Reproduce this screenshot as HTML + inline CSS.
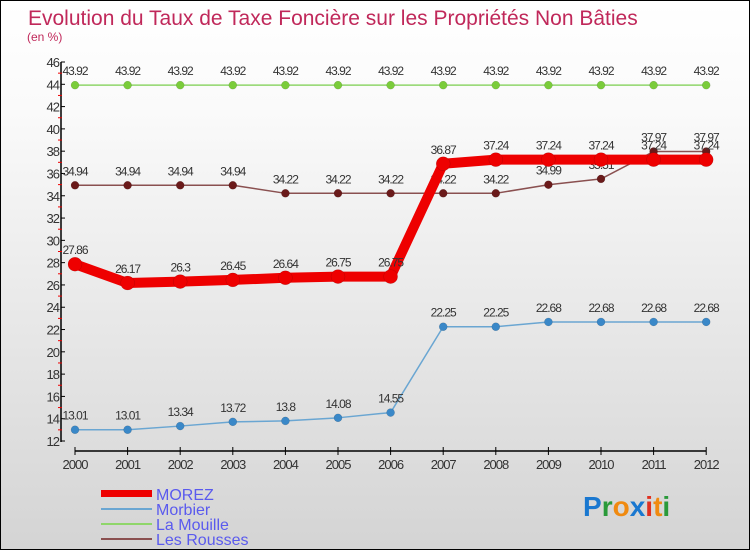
<!DOCTYPE html>
<html><head><meta charset="utf-8"><style>
html,body{margin:0;padding:0}
body{width:750px;height:550px;overflow:hidden;font-family:"Liberation Sans",sans-serif}
#wrap{position:relative;width:748px;height:548px;border:1px solid #000;background:linear-gradient(#fff,#fafafa 20%,#d4d4d4)}
</style></head><body>
<div id="wrap">
<svg id="chart" width="748" height="548" style="position:absolute;left:0;top:0">
<text x="27" y="24" font-size="21" fill="#c0285a">Evolution du Taux de Taxe Foncière sur les Propriétés Non Bâties</text>
<text x="26" y="40" font-size="12" fill="#c0285a">(en %)</text>
<g id="axes"></g><g id="series"></g>
<g>
<rect x="100" y="489" width="51" height="7" fill="#e00"/>
<text x="155" y="499" font-size="16" fill="#5a5aee">MOREZ</text>
<rect x="100" y="507" width="51" height="2" fill="#6aa6d2"/>
<text x="155" y="514" font-size="16" fill="#5a5aee">Morbier</text>
<rect x="100" y="522" width="51" height="2" fill="#8fd66a"/>
<text x="155" y="529" font-size="16" fill="#5a5aee">La Mouille</text>
<rect x="100" y="537" width="51" height="2" fill="#8a5050"/>
<text x="155" y="544" font-size="16" fill="#5a5aee">Les Rousses</text>
</g>
<text x="582" y="515" font-size="28" font-weight="bold"><tspan fill="#1a78d0">P</tspan><tspan fill="#2a9a3a">r</tspan><tspan fill="#f08a10">o</tspan><tspan fill="#1a78d0">x</tspan><tspan fill="#e03020">i</tspan><tspan fill="#f08a10">t</tspan><tspan fill="#2a9a3a">i</tspan></text>
</svg>
</div>
<script>
const years=[2000,2001,2002,2003,2004,2005,2006,2007,2008,2009,2010,2011,2012];
const morez=[27.86,26.17,26.3,26.45,26.64,26.75,26.75,36.87,37.24,37.24,37.24,37.24,37.24];
const morbier=[13.01,13.01,13.34,13.72,13.8,14.08,14.55,22.25,22.25,22.68,22.68,22.68,22.68];
const laMouille=[43.92,43.92,43.92,43.92,43.92,43.92,43.92,43.92,43.92,43.92,43.92,43.92,43.92];
const lesRousses=[34.94,34.94,34.94,34.94,34.22,34.22,34.22,34.22,34.22,34.99,35.51,37.97,37.97];
const yTicks=[12,14,16,18,20,22,24,26,28,30,32,34,36,38,40,42,44,46];
const NS="http://www.w3.org/2000/svg";
const x=i=>74+i*52.6, y=v=>440-(v-12)*(379/34);
function mk(tag,attrs,parent){const e=document.createElementNS(NS,tag);for(const k in attrs)e.setAttribute(k,attrs[k]);parent.appendChild(e);return e;}
const ax=document.getElementById('axes');
let l=mk('line',{x1:60,y1:y(46),x2:60,y2:y(12)+1,stroke:'#000','stroke-width':1.5},ax);


l=mk('line',{x1:x(0),y1:450,x2:x(12),y2:450,stroke:'#000','stroke-width':1.5},ax);


yTicks.forEach(v=>{
 mk('line',{x1:60,x2:64,y1:y(v),y2:y(v),stroke:'#000'},ax);
 if(v<46) mk('line',{x1:57,x2:61,y1:y(v+1),y2:y(v+1),stroke:'#e00'},ax);
 const t=mk('text',{x:58,y:y(v)+5,'font-size':13,'text-anchor':'end',fill:'#333','letter-spacing':'-1'},ax);t.textContent=v;
 
 
});
years.forEach((yr,i)=>{
 mk('line',{x1:x(i),x2:x(i),y1:446,y2:454,stroke:'#000'},ax);
 const t=mk('text',{x:x(i),y:468,'font-size':13,'text-anchor':'middle',fill:'#333','letter-spacing':'-1'},ax);t.textContent=yr;
 
 
});
const sg=document.getElementById('series');
function series(name,vals,color,w,r,dot){
 const g=mk('g',{},sg);
 
 
 mk('polyline',{points:vals.map((v,i)=>x(i)+','+y(v)).join(' '),fill:'none',stroke:color,'stroke-width':w,'stroke-linejoin':'round'},g);
 vals.forEach((v,i)=>{
  const c=mk('circle',{cx:x(i),cy:y(v),r:r,fill:dot,stroke:'rgba(0,0,0,0.2)','stroke-width':0.5},g);
  
  
  const t=mk('text',{x:x(i),y:y(v)-10,'font-size':12,'text-anchor':'middle',fill:'#333','letter-spacing':'-1'},g);t.textContent=v;
  
  
 });
}
series('la-mouille',laMouille,'#8fd66a',1.5,4,'#7acc3a');
series('les-rousses',lesRousses,'#8a5050',1.5,4,'#6a1a1a');
series('morbier',morbier,'#6aa6d2',1.5,4,'#3a88c8');
series('morez',morez,'#ee0000',10,7,'#ee0000');
</script>
</body></html>
